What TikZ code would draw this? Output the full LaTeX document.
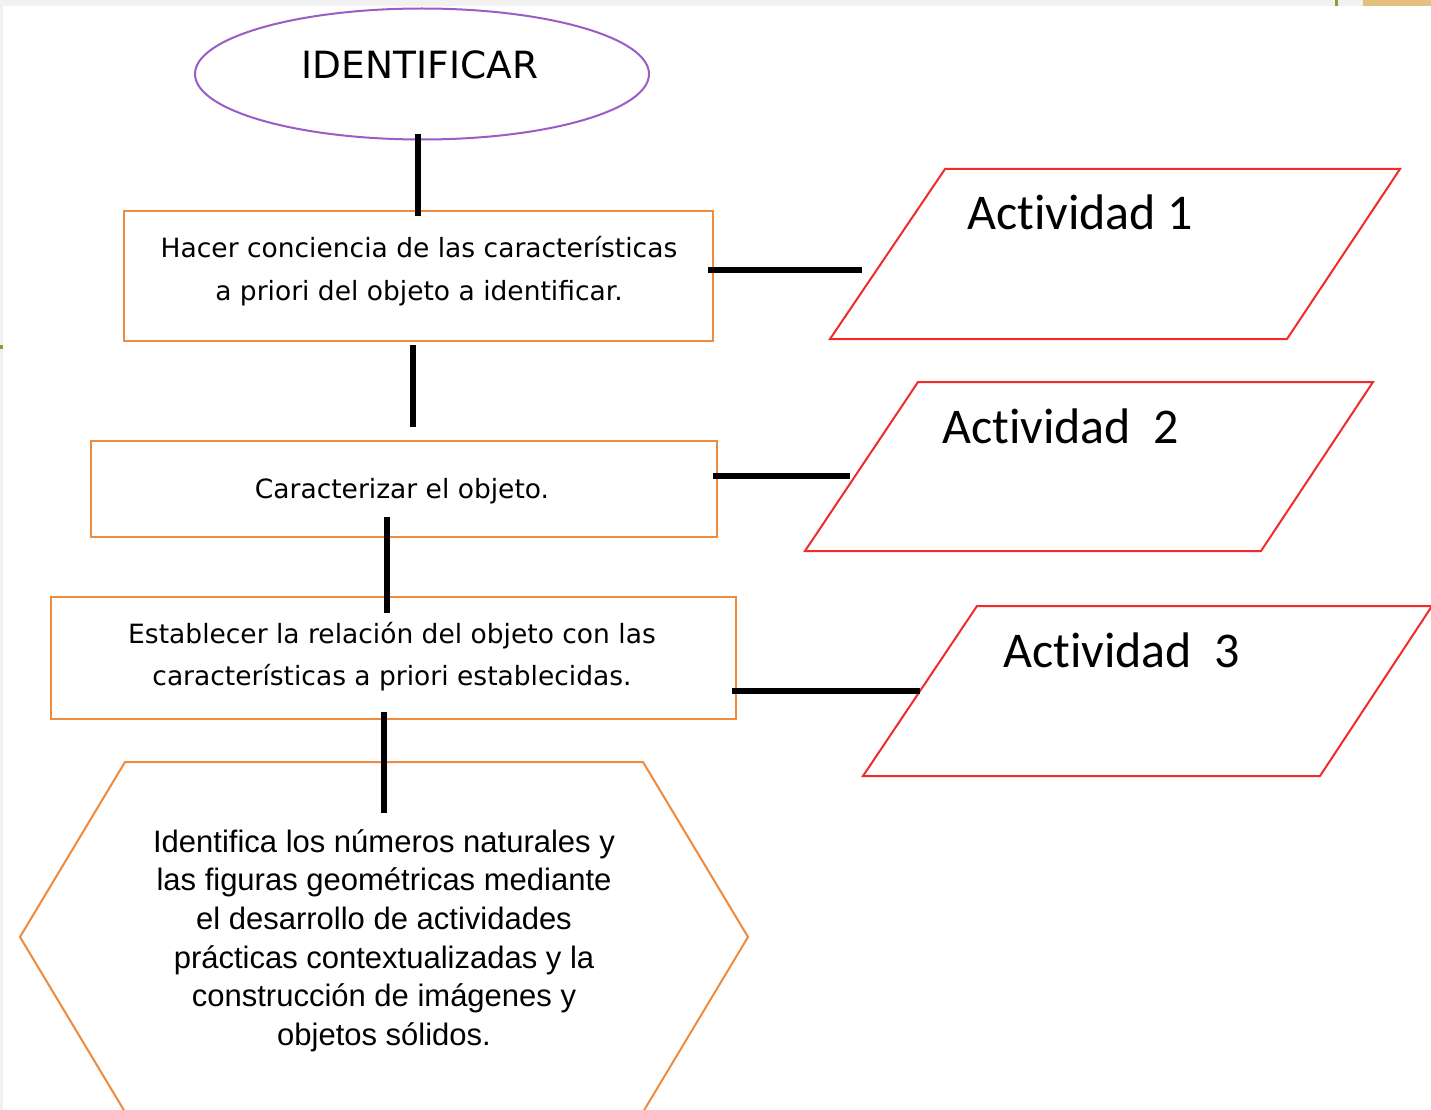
\documentclass[tikz,border=0pt]{standalone}
\usepackage{fontspec}
\usetikzlibrary{shapes.geometric}
\setmainfont{DejaVu Sans}
\newfontfamily\actfont[Ligatures=NoCommon]{Carlito}
\newfontfamily\arialfont{Liberation Sans}
\definecolor{boxorange}{HTML}{F08A3C}
\definecolor{parared}{HTML}{F22A2A}
\definecolor{ellpurple}{HTML}{9A5CC6}
\definecolor{stripgray}{HTML}{F1F1F1}
\definecolor{tickgreen}{HTML}{8AA02A}
\definecolor{tanbar}{HTML}{E3C07E}
\begin{document}
\begin{tikzpicture}[x=1pt,y=-1pt,
  boxstyle/.style={draw=boxorange,line width=2pt},
  parastyle/.style={draw=parared,line width=2pt},
  conn/.style={line width=6pt,black},
  boxtext/.style={font=\fontsize{26.5}{43}\selectfont,align=center,inner sep=0pt},
  acttext/.style={font=\actfont\fontsize{50}{54}\selectfont,anchor=base west,inner sep=0pt},
]
\useasboundingbox (0,0) rectangle (1431,1110);
% background artifacts
\fill[white] (0,0) rectangle (1431,1110);
\fill[stripgray] (0,0) rectangle (1431,6);
\fill[stripgray] (0,0) rectangle (3,1110);
\fill[tickgreen] (1335,0) rectangle (1338,6);
\fill[tanbar] (1363,0) rectangle (1431,6);
\fill[tickgreen] (0,345) rectangle (3,349);

% ellipse
\node[draw=ellpurple,line width=2pt,ellipse,minimum width=454pt,minimum height=131pt,inner sep=0pt] (ident) at (422,74) {};
\node[inner sep=0pt,font=\fontsize{37.5}{40}\selectfont,anchor=base] (identtxt) at (420,79) {IDENTIFICAR};

% boxes
\node[boxstyle,minimum width=589pt,minimum height=130pt,inner sep=0pt] (b1) at (418.5,276) {};
\node[boxtext,anchor=base] (b1t1) at (419,257) {Hacer conciencia de las características};
\node[boxtext,anchor=base] (b1t2) at (419,300) {a priori del objeto a identificar.};

\node[boxstyle,minimum width=626pt,minimum height=96pt,inner sep=0pt] (b2) at (404,489) {};
\node[boxtext,anchor=base] (b2t) at (402,498) {Caracterizar el objeto.};

\node[boxstyle,minimum width=685pt,minimum height=122pt,inner sep=0pt] (b3) at (393.5,658) {};
\node[boxtext,anchor=base] (b3t1) at (392,643) {Establecer la relación del objeto con las};
\node[boxtext,anchor=base] (b3t2) at (392,685) {características a priori establecidas.};

% hexagon
\draw[boxstyle] (125,762) -- (643,762) -- (748,937) -- (643,1112) -- (125,1112) -- (20,937) -- cycle;
\node[font=\arialfont\fontsize{31}{38.7}\selectfont,align=center,anchor=north,inner sep=0pt] (hext) at (384,829)
 {Identifica los números naturales y\\las figuras geométricas mediante\\el desarrollo de actividades\\prácticas contextualizadas y la\\construcción de imágenes y\\objetos sólidos.};

% parallelograms
\draw[parastyle] (945,169) -- (1400,169) -- (1287,339) -- (830,339) -- cycle;
\coordinate (p1) at (862,270);
\node[acttext] (a1) at (967,229) {Actividad 1};

\draw[parastyle] (918,382) -- (1373,382) -- (1261,551) -- (805,551) -- cycle;
\coordinate (p2) at (850,476);
\node[acttext] (a2) at (942,443) {Actividad\ \ 2};

\draw[parastyle] (977,606) -- (1432,606) -- (1320,776) -- (863,776) -- cycle;
\coordinate (p3) at (920,691);
\node[acttext] (a3) at (1003,667) {Actividad\ \ 3};

% connectors
\coordinate (c0a) at (418,134);
\coordinate (c0b) at (418,216);
\draw[conn] (c0a) -- (c0b);
\coordinate (c1a) at (413,345);
\coordinate (c1b) at (413,427);
\draw[conn] (c1a) -- (c1b);
\coordinate (c2a) at (387,517);
\coordinate (c2b) at (387,613);
\draw[conn] (c2a) -- (c2b);
\coordinate (c3a) at (384,712);
\coordinate (c3b) at (384,813);
\draw[conn] (c3a) -- (c3b);

\coordinate (r1) at (708,270);
\draw[conn] (r1) -- (p1);
\coordinate (r2) at (713,476);
\draw[conn] (r2) -- (p2);
\coordinate (r3) at (732,691);
\draw[conn] (r3) -- (p3);
\end{tikzpicture}
\end{document}
